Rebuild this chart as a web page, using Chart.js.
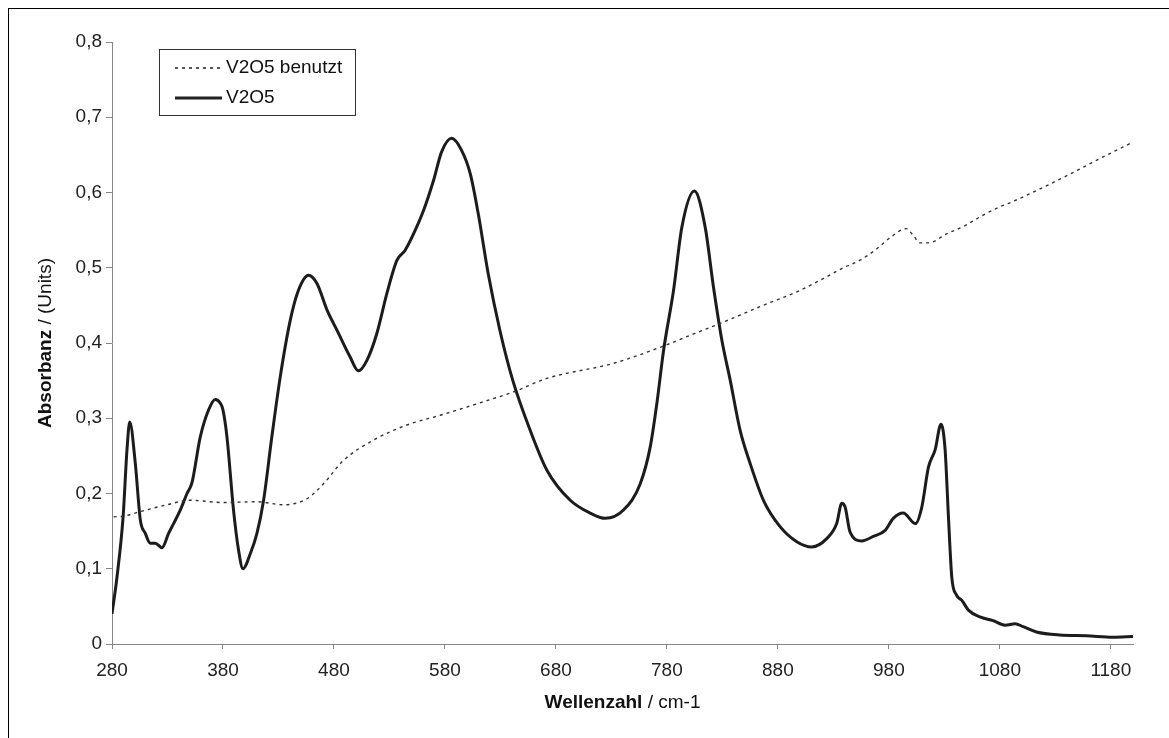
<!DOCTYPE html>
<html>
<head>
<meta charset="utf-8">
<script src="https://cdn.jsdelivr.net/npm/chart.js@4/dist/chart.umd.min.js"></script>
<style>
  html, body { margin: 0; padding: 0; background: #fff; overflow: hidden; }
  #frame {
    position: absolute; left: 8px; top: 8px; width: 1200px; height: 800px;
    border-top: 1px solid #000; border-left: 1px solid #000;
  }
  #chart { position: absolute; left: 0; top: 0; }
</style>
</head>
<body>
<div id="frame"></div>
<canvas id="chart" width="1169" height="738"></canvas>
<script>
// ===== Data =====
const xTicks = [280, 380, 480, 580, 680, 780, 880, 980, 1080, 1180];

// V2O5 (solid)
const wnFresh = [280, 284.5, 290, 293.5, 296, 301, 305.5, 310, 314.5, 319, 325, 331, 335.5, 341.5, 347.6, 352,
  359.5, 367, 373, 377.6, 380, 383.6, 389.5, 394, 398, 404.6, 410.6, 416.6, 424, 431.6, 440.6, 448, 457, 464.7,
  473.7, 482.7, 494.7, 502, 509.7, 518.7, 527.7, 536.8, 544, 551.7, 560.7, 569.7, 577, 586, 595, 602.8, 610, 619,
  629.8, 641, 656.8, 671.9, 692.9, 710.9, 724.4, 740.9, 756, 765, 771, 777, 786, 793.5, 804.8, 814.5, 822, 829.5,
  837, 846, 855, 867, 882, 897, 910.6, 924, 933, 937.6, 940.6, 945, 955.6, 966, 976.7, 984, 993, 1004, 1009.7,
  1015.7, 1021.7, 1027, 1030.7, 1033.7, 1036.7, 1041, 1045.8, 1051.7, 1062, 1074, 1084.7, 1093.8, 1101, 1113,
  1134, 1158, 1182, 1200];
const absFresh = [0.040, 0.089, 0.169, 0.258, 0.295, 0.240, 0.165, 0.147, 0.134, 0.134, 0.128, 0.147, 0.160, 0.178,
  0.200, 0.214, 0.275, 0.311, 0.325, 0.320, 0.311, 0.275, 0.178, 0.125, 0.100, 0.120, 0.147, 0.191, 0.275, 0.355,
  0.430, 0.470, 0.490, 0.479, 0.444, 0.417, 0.381, 0.363, 0.377, 0.413, 0.466, 0.510, 0.523, 0.545, 0.576, 0.616,
  0.654, 0.672, 0.656, 0.625, 0.572, 0.492, 0.415, 0.351, 0.284, 0.231, 0.191, 0.174, 0.167, 0.178, 0.213, 0.262,
  0.320, 0.390, 0.470, 0.554, 0.602, 0.554, 0.474, 0.404, 0.351, 0.284, 0.240, 0.191, 0.156, 0.136, 0.129, 0.140,
  0.160, 0.187, 0.182, 0.149, 0.137, 0.143, 0.151, 0.167, 0.174, 0.160, 0.182, 0.235, 0.258, 0.292, 0.258, 0.169,
  0.089, 0.065, 0.058, 0.045, 0.036, 0.031, 0.025, 0.027, 0.023, 0.016, 0.012, 0.011, 0.009, 0.010];

// V2O5 benutzt (dashed)
const wnUsed = [281.5, 290.5, 305.5, 329.5, 350.5, 380.5, 410.6, 434.6, 455.7, 470.6, 488.6, 515.7, 545.7, 575.8,
  614.8, 641.8, 671.9, 731.9, 777, 804, 828, 865, 900, 922.6, 939, 954, 969, 982, 995.5, 1002, 1008, 1015.7, 1032,
  1048.7, 1063.8, 1080, 1088.6, 1140, 1170, 1200];
const absUsed = [0.169, 0.170, 0.176, 0.185, 0.191, 0.188, 0.189, 0.185, 0.193, 0.213, 0.244, 0.271, 0.291, 0.304,
  0.322, 0.335, 0.353, 0.373, 0.396, 0.412, 0.426, 0.449, 0.470, 0.487, 0.500, 0.510, 0.525, 0.541, 0.552, 0.543,
  0.533, 0.533, 0.545, 0.556, 0.569, 0.581, 0.586, 0.622, 0.645, 0.667];

const seriesNames = ['V2O5 benutzt', 'V2O5'];

const toPoints = (xs, ys) => xs.map((x, i) => ({ x: x, y: ys[i] }));

const FONT = '"Liberation Sans", Arial, sans-serif';
const FONT_SIZE = 19;
const AXIS_GREY = '#868686';

// axis titles (bold + normal parts) and the in-plot legend
const decorations = {
  id: 'decorations',
  afterDraw(chart) {
    const ctx = chart.ctx;
    const area = chart.chartArea;
    ctx.save();
    ctx.fillStyle = '#111';
    ctx.textBaseline = 'middle';

    // x title
    const bold = '700 ' + FONT_SIZE + 'px ' + FONT, norm = '400 ' + FONT_SIZE + 'px ' + FONT;
    ctx.font = bold;
    const xb = ctx.measureText('Wellenzahl').width;
    ctx.font = norm;
    const xn = ctx.measureText(' / cm-1').width;
    let x0 = (area.left + area.right) / 2 - (xb + xn) / 2;
    ctx.textAlign = 'left';
    ctx.font = bold; ctx.fillText('Wellenzahl', x0, 703);
    ctx.font = norm; ctx.fillText(' / cm-1', x0 + xb, 703);

    // y title
    ctx.font = bold;
    const yb = ctx.measureText('Absorbanz').width;
    ctx.font = norm;
    const yn = ctx.measureText(' / (Units)').width;
    ctx.translate(46, (area.top + area.bottom) / 2);
    ctx.rotate(-Math.PI / 2);
    x0 = -(yb + yn) / 2;
    ctx.font = bold; ctx.fillText('Absorbanz', x0, 0);
    ctx.font = norm; ctx.fillText(' / (Units)', x0 + yb, 0);
    ctx.restore();

    // legend box
    ctx.save();
    ctx.fillStyle = '#fff';
    ctx.fillRect(159.5, 49.5, 196, 66);
    ctx.strokeStyle = '#333';
    ctx.lineWidth = 1;
    ctx.strokeRect(159.5, 49.5, 196, 66);

    ctx.strokeStyle = '#222';
    ctx.lineWidth = 1.5;
    ctx.setLineDash([3, 4]);
    ctx.beginPath(); ctx.moveTo(175, 68); ctx.lineTo(222, 68); ctx.stroke();
    ctx.setLineDash([]);
    ctx.lineWidth = 3;
    ctx.beginPath(); ctx.moveTo(175, 98); ctx.lineTo(222, 98); ctx.stroke();

    ctx.fillStyle = '#111';
    ctx.font = '400 ' + FONT_SIZE + 'px ' + FONT;
    ctx.textBaseline = 'middle';
    ctx.fillText(seriesNames[0], 226, 68);
    ctx.fillText(seriesNames[1], 226, 98);
    ctx.restore();
  }
};

new Chart(document.getElementById('chart'), {
  type: 'line',
  data: {
    datasets: [
      {
        label: seriesNames[0],
        data: toPoints(wnUsed, absUsed),
        borderColor: '#333',
        borderWidth: 1.4,
        borderDash: [3, 4],
        pointRadius: 0,
        cubicInterpolationMode: 'monotone',
        fill: false
      },
      {
        label: seriesNames[1],
        data: toPoints(wnFresh, absFresh),
        borderColor: '#1c1c1c',
        borderWidth: 3,
        pointRadius: 0,
        cubicInterpolationMode: 'monotone',
        fill: false
      }
    ]
  },
  options: {
    responsive: false,
    animation: false,
    devicePixelRatio: 1,
    layout: { padding: { left: 0, top: 42, right: 36, bottom: 0 } },
    plugins: {
      legend: { display: false },
      tooltip: { enabled: false }
    },
    scales: {
      x: {
        type: 'linear',
        min: 280,
        max: 1200,
        afterBuildTicks: (scale) => { scale.ticks = xTicks.map(v => ({ value: v })); },
        afterFit: (scale) => { scale.height = 94; },
        grid: { drawOnChartArea: false, drawTicks: true, tickLength: 5, color: AXIS_GREY },
        border: { color: AXIS_GREY, width: 1 },
        ticks: {
          color: '#222',
          font: { family: FONT, size: FONT_SIZE },
          padding: 10,
          maxRotation: 0,
          autoSkip: false,
          callback: (v) => String(v)
        }
      },
      y: {
        min: 0,
        max: 0.8,
        afterFit: (scale) => { scale.width = 112; },
        grid: { drawOnChartArea: false, drawTicks: true, tickLength: 6, color: AXIS_GREY },
        border: { color: AXIS_GREY, width: 1 },
        ticks: {
          stepSize: 0.1,
          color: '#222',
          font: { family: FONT, size: FONT_SIZE },
          padding: 4,
          callback: (v) => (Math.abs(v) < 1e-9 ? '0' : v.toFixed(1).replace('.', ','))
        }
      }
    }
  },
  plugins: [decorations]
});
</script>
</body>
</html>
